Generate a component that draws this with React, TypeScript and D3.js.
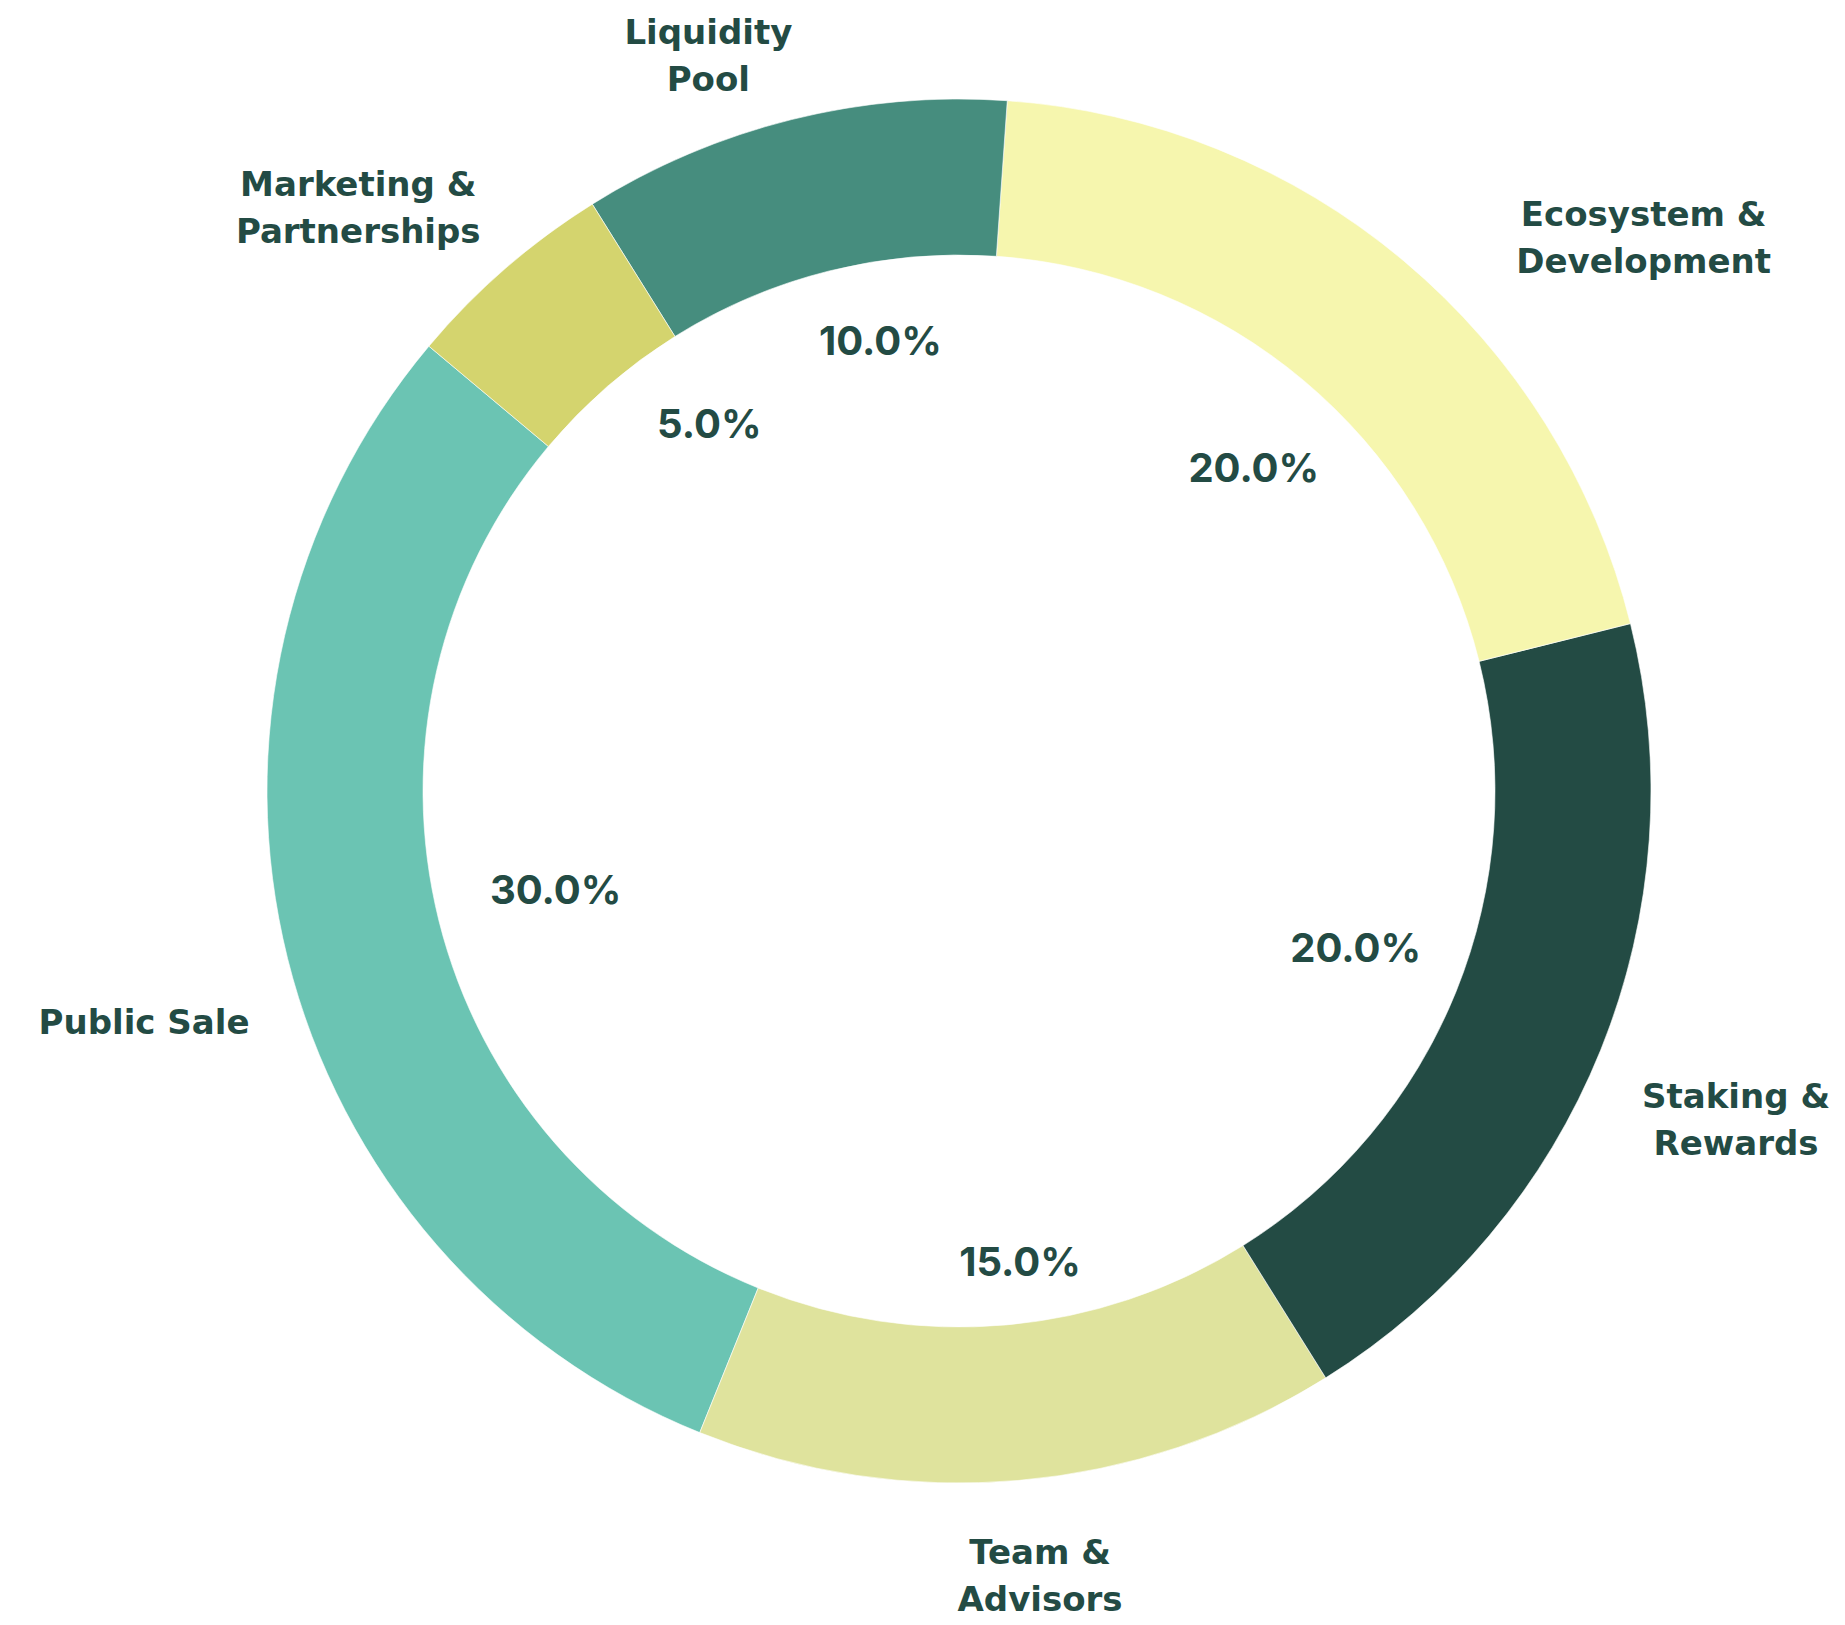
import React, { useEffect, useRef } from "react";
import * as d3 from "d3";

// token allocation, in drawing order (counter-clockwise from 140deg)
const categories = [
  "Public Sale",
  "Team & Advisors",
  "Staking & Rewards",
  "Ecosystem & Development",
  "Liquidity Pool",
  "Marketing & Partnerships",
];
const shares = [30, 15, 20, 20, 10, 5];
const labelLines = [
  ["Public Sale"],
  ["Team &", "Advisors"],
  ["Staking &", "Rewards"],
  ["Ecosystem &", "Development"],
  ["Liquidity", "Pool"],
  ["Marketing &", "Partnerships"],
];
const colors = ["#6bc4b3", "#dfe39d", "#234b44", "#f6f6ae", "#468d7e", "#d4d46e"];

// label placement tweaks (degrees counter-clockwise, fraction of radius)
const labelShift = [1.8, 0.9, -0.9, -11, 4.8, 4.8];
const labelDist = [1.224, 1.139, 1.219, 1.273, 1.124, 1.211];
const pctShift = [-0.3, 2.4, 0.5, -2.3, -4.1, -6.8];
const pctDist = [0.6, 0.685, 0.616, 0.633, 0.661, 0.642];

const W = 1845;
const H = 1625;
const textColor = "#234b44";

const App = () => {
  const svgRef = useRef(null);

  useEffect(() => {
    const svg = d3.select(svgRef.current);
    svg.selectAll("*").remove();

    const cx = 959;
    const cy = 791;
    const outerR = 692;
    const innerR = 536;
    const start = (90 - 140) * Math.PI / 180;

    const pie = d3.pie().sort(null).startAngle(start).endAngle(start - 2 * Math.PI);
    const arcs = pie(shares);
    const arc = d3.arc().innerRadius(innerR).outerRadius(outerR);

    const g = svg.append("g").attr("transform", `translate(${cx},${cy})`);

    g.selectAll("path.slice")
      .data(arcs)
      .enter().append("path")
      .attr("class", "slice")
      .attr("d", arc)
      .attr("fill", (d, i) => colors[i])
      .attr("stroke", "#ffffff")
      .attr("stroke-width", 0.6);

    const polar = (d, shiftDeg, dist) => {
      const a = (d.startAngle + d.endAngle) / 2 - shiftDeg * Math.PI / 180;
      return [Math.sin(a) * dist * outerR, -Math.cos(a) * dist * outerR];
    };

    // percentages
    g.selectAll("text.pct")
      .data(arcs)
      .enter().append("text")
      .attr("class", "pct")
      .attr("x", (d, i) => polar(d, pctShift[i], pctDist[i])[0])
      .attr("y", (d, i) => polar(d, pctShift[i], pctDist[i])[1] + 14.5)
      .attr("text-anchor", "middle")
      .attr("font-family", "Inter, 'DejaVu Sans', sans-serif")
      .attr("font-weight", 700)
      .attr("font-size", 40)
      .attr("fill", textColor)
      .text((d) => ((d.value / d3.sum(shares)) * 100).toFixed(1) + "%");

    // category labels
    const lineGap = 47;
    arcs.forEach((d, i) => {
      const [x, y] = polar(d, labelShift[i], labelDist[i]);
      const lines = labelLines[i];
      const t = g.append("text")
        .attr("text-anchor", "middle")
        .attr("font-family", "'DejaVu Sans', sans-serif")
        .attr("font-weight", 700)
        .attr("font-size", 34)
        .attr("fill", textColor);
      lines.forEach((line, j) => {
        t.append("tspan")
          .attr("x", x)
          .attr("y", y + 12.4 + (j - (lines.length - 1) / 2) * lineGap)
          .text(line);
      });
    });
  }, []);

  return (
    <svg
      ref={svgRef}
      width={W}
      height={H}
      style={{ position: "absolute", left: 0, top: 0, background: "#ffffff" }}
    />
  );
};

export default App;
